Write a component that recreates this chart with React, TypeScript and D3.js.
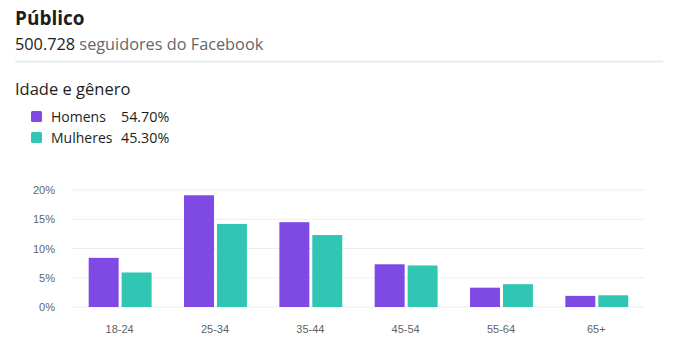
import React from 'react'
import * as d3 from 'd3'

const ageGroups = ['18-24', '25-34', '35-44', '45-54', '55-64', '65+']
const menValues = [8.4, 19.1, 14.5, 7.3, 3.3, 1.9]
const womenValues = [5.9, 14.2, 12.3, 7.1, 3.9, 2.0]
const yTicks = [0, 5, 10, 15, 20]
const seriesNames = ['Homens', 'Mulheres']
const seriesShares = ['54.70%', '45.30%']
const seriesColors = ['#7f4ae3', '#31c6b3']

const width = 676
const height = 361
const margin = { top: 190, right: 32, bottom: 54, left: 72 }

const App = () => {
  const plotH = height - margin.top - margin.bottom
  const yScale = d3.scaleLinear().domain([0, 20]).range([margin.top + plotH, margin.top])
  const xScale = d3.scaleBand().domain(ageGroups).range([margin.left, width - margin.right]).padding(0)
  const bw = xScale.bandwidth()
  const inner = d3.scaleBand()
    .domain(seriesNames)
    .range([bw * 0.175, bw * 0.835])
    .paddingInner(0.09)

  const rows = ageGroups.map((g, i) => ({ group: g, values: [menValues[i], womenValues[i]] }))

  return (
    <svg width={width} height={height} style={{ position: 'absolute', left: 0, top: 0, background: '#fff' }}>
      <text x={15} y={25} fontFamily="Open Sans, Noto Sans, sans-serif" fontWeight={700} fontSize={19} fill="#1c1e21">Público</text>
      <text x={15} y={50} fontFamily="Open Sans, Noto Sans, sans-serif" fontSize={16.3}>
        <tspan fill="#1c1e21">500.728</tspan>
        <tspan fill="#65676b"> seguidores do Facebook</tspan>
      </text>
      <line x1={15} x2={663} y1={61.5} y2={61.5} stroke="#e4e6eb" strokeWidth={1.5} />
      <text x={15} y={95} fontFamily="Open Sans, Noto Sans, sans-serif" fontSize={16.5} fill="#1c1e21">Idade e gênero</text>

      {seriesNames.map((name, i) => (
        <g key={name} transform={`translate(31, ${111 + i * 21})`}>
          <rect width={11} height={11} rx={1.5} fill={seriesColors[i]} />
          <text x={20} y={10.5} fontFamily="Open Sans, Noto Sans, sans-serif" fontSize={14} fill="#1c1e21">{name}</text>
          <text x={90} y={10.5} fontFamily="Open Sans, Noto Sans, sans-serif" fontSize={14.3} fill="#1c1e21">{seriesShares[i]}</text>
        </g>
      ))}

      {yTicks.map((t) => (
        <g key={t}>
          <line x1={margin.left} x2={width - margin.right} y1={yScale(t)} y2={yScale(t)} stroke="#eeeeee" strokeWidth={1} />
          <text x={55} y={yScale(t) + 4} textAnchor="end" fontFamily="Liberation Sans, Arial, sans-serif" fontSize={11} fill="#5f6368">{t}%</text>
        </g>
      ))}

      {rows.map((r) => (
        <g key={r.group} transform={`translate(${xScale(r.group)}, 0)`}>
          {r.values.map((v, j) => (
            <rect
              key={j}
              x={inner(seriesNames[j])}
              y={yScale(v)}
              width={inner.bandwidth()}
              height={yScale(0) - yScale(v)}
              fill={seriesColors[j]}
            />
          ))}
          <text x={bw / 2} y={333} textAnchor="middle" fontFamily="Liberation Sans, Arial, sans-serif" fontSize={11} fill="#5f6368">{r.group}</text>
        </g>
      ))}
    </svg>
  )
}

export default App
